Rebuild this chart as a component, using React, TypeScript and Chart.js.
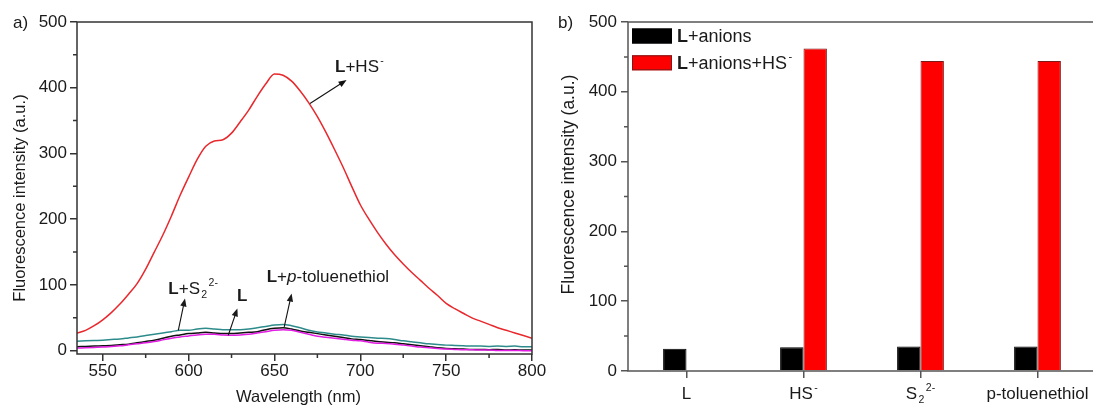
import React, { useEffect, useRef } from 'react';
import { Chart, registerables } from 'chart.js';

Chart.register(...registerables);

const FONT = "'Liberation Sans', Arial, Helvetica, sans-serif";
const TEXT = '#1a1a1a';

// ---------- panel a) emission spectra ----------
const wavelengths = [
  535, 540, 545, 550, 555, 560, 565, 570, 575, 580, 585, 590, 595, 600, 605, 610, 615, 620,
  625, 630, 635, 640, 645, 650, 655, 660, 665, 670, 675, 680, 685, 690, 695, 700, 705, 710,
  715, 720, 725, 730, 735, 740, 745, 750, 755, 760, 765, 770, 775, 780, 785, 790, 795, 800,
];
const intensityLHS = [
  27, 31, 38, 47, 58, 71, 86, 102, 124, 150, 176, 205, 236, 264, 291, 311, 319, 321,
  331, 348, 366, 387, 406, 421, 419, 410, 395, 377, 356, 332, 306, 279, 250, 222, 200, 180,
  162, 146, 132, 119, 107, 95, 84, 72, 64, 57, 50, 45, 40, 35, 31, 27, 23, 19,
];
const intensityLS2 = [
  14.5, 15, 15.5, 16, 17, 18, 19.5, 21, 23, 25, 27, 29, 31, 31, 33, 34, 33, 32,
  32, 32, 33, 35, 37, 39, 40, 38, 35, 31, 28.6, 27, 25, 24, 22, 21, 20, 19,
  18.5, 17, 15, 13.5, 12, 10.5, 9.5, 8.5, 8, 7.5, 7, 7, 6.5, 7, 6.5, 7, 6, 6,
];
const intensityL = [
  6, 6.5, 7, 7.5, 8, 9, 10, 12, 14, 16, 19, 22, 24, 26, 27, 28, 27, 26,
  26, 27, 28, 29, 32, 34, 35, 33, 30, 28, 26, 24, 22, 20, 18, 17, 15.5, 14,
  13, 12, 10.5, 9, 7.5, 6, 4.5, 3.5, 3, 2.5, 2, 2, 1.5, 2, 1, 1.5, 1, 1,
];
const intensityLPT = [
  4, 4.5, 5, 5.5, 6.5, 7.5, 9, 10.5, 12, 14, 16.5, 19, 21, 22.5, 24, 25, 25, 24,
  23.5, 24, 25, 27, 29, 31, 32, 31, 28, 25, 22, 20.5, 19, 17.5, 16, 15, 13, 11.5,
  11, 10, 8.5, 7, 5.5, 4.5, 3.5, 2.5, 2, 1.5, 1.5, 1, 1, 0.5, 0.5, 0.5, 0, 0,
];
const lineSeriesNames = ['L+S2 2-', 'L+p-toluenethiol', 'L', 'L+HS-'];

const specXMinor = [575, 625, 675, 725, 775];
const intensityMajor = [0, 100, 200, 300, 400, 500];
const intensityMinor = [50, 150, 250, 350, 450];

// annotation labels (data units: [wavelength, intensity])
const annotations = [
  { text: '**L**+HS^{-}', at: [685.3, 424], from: [670.7, 376], to: [692, 411.7] },
  { text: '**L**+S_{2}^{2-}', at: [588.2, 87], from: [594, 31], to: [597.9, 79.5] },
  { text: '**L**', at: [628.2, 75.8], from: [623.1, 23.6], to: [628.4, 64.2] },
  { text: '**L**+//p//-toluenethiol', at: [645.5, 104.7], from: [655.7, 36.2], to: [660, 87] },
];

// ---------- panel b) bars ----------
const barCategories = ['L', 'HS-', 'S2 2-', 'p-toluenethiol'];
const barCategoryLabels = ['L', 'HS^{-}', 'S_{2}^{2-}', 'p-toluenethiol'];
const barAnions = [32, 34, 35, 35];
const barAnionsHS = [null, 462, 444, 444];
const barSeriesLabels = ['**L**+anions', '**L**+anions+HS^{-}'];

// ---------- helpers ----------
type Seg = { text: string; bold: boolean; italic: boolean; pos?: 'sup' | 'sub' };

function parseRich(s: string): Seg[] {
  const segs: Seg[] = [];
  let bold = false;
  let italic = false;
  let buf = '';
  let i = 0;
  const flush = () => {
    if (buf) segs.push({ text: buf, bold, italic });
    buf = '';
  };
  while (i < s.length) {
    if (s.startsWith('**', i)) { flush(); bold = !bold; i += 2; continue; }
    if (s.startsWith('//', i)) { flush(); italic = !italic; i += 2; continue; }
    if ((s[i] === '^' || s[i] === '_') && s[i + 1] === '{') {
      flush();
      const end = s.indexOf('}', i);
      segs.push({ text: s.slice(i + 2, end), bold, italic, pos: s[i] === '^' ? 'sup' : 'sub' });
      i = end + 1;
      continue;
    }
    buf += s[i];
    i++;
  }
  flush();
  return segs;
}

function drawRich(ctx: CanvasRenderingContext2D, markup: string, x: number, y: number, size: number, align: 'left' | 'center' = 'left', color = TEXT) {
  const items = parseRich(markup).map((s) => {
    const sz = s.pos ? size * 0.62 : size;
    const font = `${s.italic ? 'italic ' : ''}${s.bold ? 'bold ' : ''}${sz}px ${FONT}`;
    ctx.font = font;
    const w = ctx.measureText(s.text).width;
    const dy = s.pos === 'sup' ? -size * 0.47 : s.pos === 'sub' ? size * 0.24 : 0;
    const gap = s.pos ? size * 0.08 : 0;
    return { ...s, font, w, dy, gap };
  });
  const total = items.reduce((a, b) => a + b.w + b.gap, 0);
  let cx = align === 'center' ? x - total / 2 : x;
  ctx.textAlign = 'left';
  ctx.textBaseline = 'alphabetic';
  ctx.fillStyle = color;
  for (const it of items) {
    ctx.font = it.font;
    cx += it.gap;
    ctx.fillText(it.text, cx, y + it.dy);
    cx += it.w;
  }
}

function drawArrow(ctx: CanvasRenderingContext2D, x1: number, y1: number, x2: number, y2: number) {
  const a = Math.atan2(y2 - y1, x2 - x1);
  const hl = 8;
  const hw = 3.2;
  const c = Math.cos(a);
  const s = Math.sin(a);
  ctx.beginPath();
  ctx.moveTo(x1, y1);
  ctx.lineTo(x2 - hl * 0.7 * c, y2 - hl * 0.7 * s);
  ctx.stroke();
  ctx.beginPath();
  ctx.moveTo(x2, y2);
  ctx.lineTo(x2 - hl * c + hw * s, y2 - hl * s - hw * c);
  ctx.lineTo(x2 - hl * c - hw * s, y2 - hl * s + hw * c);
  ctx.closePath();
  ctx.fill();
}

function drawVText(ctx: CanvasRenderingContext2D, text: string, x: number, y: number, size: number) {
  ctx.save();
  ctx.translate(x, y);
  ctx.rotate(-Math.PI / 2);
  ctx.font = `${size}px ${FONT}`;
  ctx.fillStyle = TEXT;
  ctx.textAlign = 'center';
  ctx.textBaseline = 'middle';
  ctx.fillText(text, 0, 0);
  ctx.restore();
}

const tickGrid = (color: string) => ({
  display: true,
  drawOnChartArea: false,
  drawTicks: true,
  tickLength: 7,
  color,
  tickColor: color,
  lineWidth: 1.5,
  tickWidth: 1.5,
});

const leftDecor = {
  id: 'leftDecor',
  afterDraw(chart: any) {
    const { ctx, chartArea, scales } = chart;
    const { left, top, right, bottom } = chartArea;
    const x = scales.x;
    const y = scales.y;
    ctx.save();
    ctx.strokeStyle = '#333';
    ctx.lineWidth = 1.5;
    ctx.strokeRect(left, top, right - left, bottom - top);
    ctx.beginPath();
    for (const v of specXMinor) {
      const px = x.getPixelForValue(v);
      ctx.moveTo(px, bottom);
      ctx.lineTo(px, bottom + 4);
    }
    for (const v of intensityMinor) {
      const py = y.getPixelForValue(v);
      ctx.moveTo(left - 4, py);
      ctx.lineTo(left, py);
    }
    ctx.stroke();

    ctx.strokeStyle = '#111';
    ctx.fillStyle = '#111';
    ctx.lineWidth = 1.1;
    for (const a of annotations) {
      drawArrow(ctx, x.getPixelForValue(a.from[0]), y.getPixelForValue(a.from[1]), x.getPixelForValue(a.to[0]), y.getPixelForValue(a.to[1]));
      drawRich(ctx, a.text, x.getPixelForValue(a.at[0]), y.getPixelForValue(a.at[1]), 17);
    }

    drawVText(ctx, 'Fluorescence intensity (a.u.)', left - 57, (top + bottom) / 2 + 10, 16.5);
    ctx.font = `16.5px ${FONT}`;
    ctx.fillStyle = TEXT;
    ctx.textAlign = 'center';
    ctx.textBaseline = 'middle';
    ctx.fillText('Wavelength (nm)', (left + right) / 2 - 6, bottom + 43);
    ctx.font = `17px ${FONT}`;
    ctx.textAlign = 'left';
    ctx.fillText('a)', left - 64, top + 1);
    ctx.restore();
  },
};

const rightDecor = {
  id: 'rightDecor',
  afterDraw(chart: any) {
    const { ctx, chartArea, scales } = chart;
    const { left, top, right, bottom } = chartArea;
    const x = scales.x;
    const y = scales.y;
    ctx.save();
    ctx.strokeStyle = '#555';
    ctx.lineWidth = 1.5;
    ctx.strokeRect(left, top, right - left, bottom - top);
    ctx.beginPath();
    for (const v of intensityMinor) {
      const py = y.getPixelForValue(v);
      ctx.moveTo(left - 4, py);
      ctx.lineTo(left, py);
    }
    ctx.stroke();

    barCategoryLabels.forEach((lab, i) => {
      drawRich(ctx, lab, x.getPixelForValue(i), bottom + 27.5, 17, 'center');
    });

    // legend
    const fills = ['#000000', '#ff0000'];
    const edges = ['#000000', '#7a1a1a'];
    barSeriesLabels.forEach((lab, i) => {
      const by = top + 6.5 + i * 26.8;
      ctx.fillStyle = fills[i];
      ctx.fillRect(left + 4, by, 40, 15);
      ctx.strokeStyle = edges[i];
      ctx.lineWidth = 1;
      ctx.strokeRect(left + 4.5, by + 0.5, 39, 14);
      drawRich(ctx, lab, left + 49, by + 13.5, 18);
    });

    drawVText(ctx, 'Fluorescence intensity (a.u.)', left - 59, (top + bottom) / 2 - 12, 17.5);
    ctx.font = `17px ${FONT}`;
    ctx.fillStyle = TEXT;
    ctx.textAlign = 'left';
    ctx.textBaseline = 'middle';
    ctx.fillText('b)', left - 70, top + 1);
    ctx.restore();
  },
};

export default function App() {
  const leftRef = useRef<HTMLCanvasElement>(null);
  const rightRef = useRef<HTMLCanvasElement>(null);

  useEffect(() => {
    Chart.defaults.font.family = FONT;
    Chart.defaults.color = TEXT;
    const pts = (vals: number[]) => wavelengths.map((w, i) => ({ x: w, y: vals[i] }));
    const lineStyle = { pointRadius: 0, borderWidth: 1.5, cubicInterpolationMode: 'monotone' as const, fill: false };

    const leftChart = new Chart(leftRef.current!, {
      type: 'line',
      data: {
        datasets: [
          { label: lineSeriesNames[0], data: pts(intensityLS2), borderColor: '#2e8b8b', ...lineStyle },
          { label: lineSeriesNames[1], data: pts(intensityLPT), borderColor: '#e21ee2', ...lineStyle },
          { label: lineSeriesNames[2], data: pts(intensityL), borderColor: '#111111', ...lineStyle },
          { label: lineSeriesNames[3], data: pts(intensityLHS), borderColor: '#e8282c', ...lineStyle },
        ],
      },
      options: {
        responsive: false,
        animation: false,
        events: [],
        layout: { padding: { top: 22, right: 20, left: 0, bottom: 0 } },
        plugins: { legend: { display: false }, tooltip: { enabled: false } },
        scales: {
          x: {
            type: 'linear',
            min: 535,
            max: 800,
            ticks: { stepSize: 50, includeBounds: false, font: { size: 17 }, color: TEXT, padding: 0, maxRotation: 0 },
            grid: tickGrid('#333'),
            border: { display: false },
            afterFit: (s: any) => { s.height = 53; },
          },
          y: {
            type: 'linear',
            min: -5,
            max: 500,
            ticks: { stepSize: 100, includeBounds: false, font: { size: 17 }, color: TEXT, padding: 3 },
            afterBuildTicks: (s: any) => { s.ticks = intensityMajor.map((v) => ({ value: v })); },
            grid: tickGrid('#333'),
            border: { display: false },
            afterFit: (s: any) => { s.width = 77; },
          },
        },
      },
      plugins: [leftDecor],
    });

    const rightChart = new Chart(rightRef.current!, {
      type: 'bar',
      data: {
        labels: barCategories,
        datasets: [
          { label: 'L+anions', data: barAnions, backgroundColor: '#000000', borderColor: '#000000', borderWidth: 1, categoryPercentage: 0.4, barPercentage: 1 },
          { label: 'L+anions+HS-', data: barAnionsHS, backgroundColor: '#ff0000', borderColor: '#7a1a1a', borderWidth: 1, categoryPercentage: 0.4, barPercentage: 1 },
        ],
      },
      options: {
        responsive: false,
        animation: false,
        events: [],
        layout: { padding: { top: 22, right: 14, left: 0, bottom: 0 } },
        plugins: { legend: { display: false }, tooltip: { enabled: false } },
        scales: {
          x: {
            type: 'category',
            offset: true,
            ticks: { callback: () => '', autoSkip: false, maxRotation: 0 },
            grid: { ...tickGrid('#555'), offset: false },
            border: { display: false },
            afterFit: (s: any) => { s.height = 36; },
          },
          y: {
            type: 'linear',
            min: 0,
            max: 500,
            ticks: { stepSize: 100, font: { size: 17 }, color: TEXT, padding: 4 },
            grid: tickGrid('#555'),
            border: { display: false },
            afterFit: (s: any) => { s.width = 88; },
          },
        },
      },
      plugins: [rightDecor],
    });

    return () => {
      leftChart.destroy();
      rightChart.destroy();
    };
  }, []);

  return (
    <div style={{ position: 'fixed', left: 0, top: 0, width: 1093, height: 407, overflow: 'hidden', background: '#ffffff' }}>
      <canvas ref={leftRef} width={552} height={407} style={{ position: 'absolute', left: 0, top: 0, width: 552, height: 407 }} />
      <canvas ref={rightRef} width={570} height={407} style={{ position: 'absolute', left: 540, top: 0, width: 570, height: 407 }} />
    </div>
  );
}
